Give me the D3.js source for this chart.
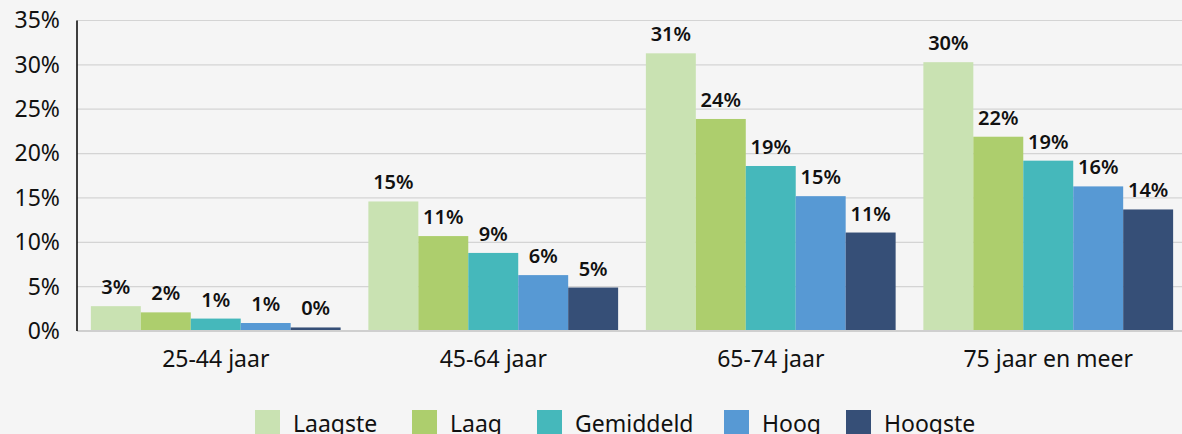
<!DOCTYPE html>
<html>
<head>
<meta charset="utf-8">
<script src="https://cdn.jsdelivr.net/npm/d3@7"></script>
<style>
  html, body { margin: 0; padding: 0; background: #f5f5f5; }
  svg { display: block; font-family: "Noto Sans", sans-serif; }
</style>
</head>
<body>
<svg id="chart"></svg>
<script>
const categories = ['25-44 jaar', '45-64 jaar', '65-74 jaar', '75 jaar en meer']
const series = ['Laagste', 'Laag', 'Gemiddeld', 'Hoog', 'Hoogste']
const colors = ['#c9e2b2', '#adce6d', '#45b8bb', '#5799d4', '#364f77']
// percentages per series, one per category
const laagste = [2.8, 14.6, 31.3, 30.3]
const laag = [2.1, 10.7, 23.9, 21.9]
const gemiddeld = [1.4, 8.8, 18.6, 19.2]
const hoog = [0.9, 6.3, 15.2, 16.3]
const hoogste = [0.4, 4.9, 11.1, 13.7]
const yTicks = [0, 5, 10, 15, 20, 25, 30, 35]

const values = [laagste, laag, gemiddeld, hoog, hoogste]
const data = []
categories.forEach((c, i) => series.forEach((s, j) => data.push({ cat: c, s, v: values[j][i] })))

const w = 1182, h = 434
const svg = d3.select('#chart').attr('width', w).attr('height', h)
const x0 = d3.scaleBand().domain(categories).range([77, 1187]).paddingInner(0.1).paddingOuter(0.05)
const x1 = d3.scaleBand().domain(series).range([0, x0.bandwidth()])
const y = d3.scaleLinear().domain([0, 35]).range([331, 20.5])
const color = d3.scaleOrdinal().domain(series).range(colors)

// gridlines
svg.append('g').selectAll('line').data(yTicks.filter(t => t > 0)).enter().append('line')
  .attr('x1', 77).attr('x2', w).attr('y1', d => y(d)).attr('y2', d => y(d))
  .attr('stroke', '#d4d4d4').attr('stroke-width', 1.2)

// y labels
const yAxis = svg.append('g').attr('transform', 'translate(77,0)')
  .call(d3.axisLeft(y).tickValues(yTicks).tickFormat(d => d + '%').tickSize(0).tickPadding(17))
yAxis.select('.domain').remove()
yAxis.selectAll('text').attr('font-size', 23).attr('fill', '#111').attr('font-family', '"Noto Sans", sans-serif')

// bars
svg.append('g').selectAll('rect').data(data).enter().append('rect')
  .attr('x', d => x0(d.cat) + x1(d.s)).attr('width', x1.bandwidth())
  .attr('y', d => y(d.v)).attr('height', d => y(0) - y(d.v))
  .attr('fill', d => color(d.s))

// value labels
svg.append('g').selectAll('text').data(data).enter().append('text')
  .attr('x', d => x0(d.cat) + x1(d.s) + x1.bandwidth() / 2)
  .attr('y', d => y(d.v) - 12)
  .attr('text-anchor', 'middle').attr('font-size', 20).attr('font-weight', 600).attr('fill', '#111')
  .text(d => Math.round(d.v) + '%')

// x axis
const xAxis = svg.append('g').attr('transform', `translate(0,${y(0)})`)
  .call(d3.axisBottom(x0).tickSize(0).tickPadding(20))
xAxis.select('.domain').attr('stroke', '#cfcfcf').attr('stroke-width', 2).attr('d', `M77,0H${w}`)
xAxis.selectAll('text').attr('font-size', 23).attr('fill', '#111').attr('font-family', '"Noto Sans", sans-serif')

// left axis line
svg.append('line').attr('x1', 77).attr('x2', 77).attr('y1', y(35)).attr('y2', y(0))
  .attr('stroke', '#000').attr('stroke-width', 1.5)

// legend
const legX = [255, 412, 537, 724, 846]
const leg = svg.append('g').selectAll('g').data(series).enter().append('g')
  .attr('transform', (d, i) => `translate(${legX[i]},410)`)
leg.append('rect').attr('width', 25).attr('height', 25).attr('fill', d => color(d))
leg.append('text').attr('x', 38).attr('y', 22).attr('font-size', 23).attr('fill', '#111').text(d => d)
</script>
</body>
</html>
